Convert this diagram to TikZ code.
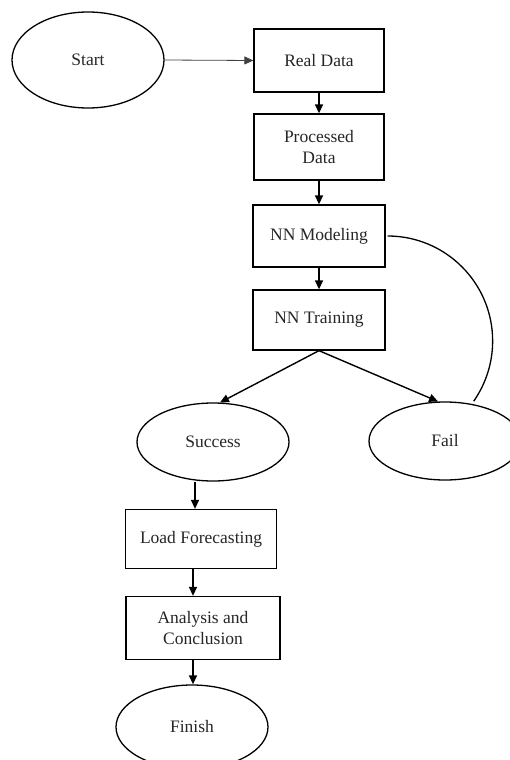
\documentclass[tikz,border=0pt]{standalone}
\usepackage{fontspec}
\setmainfont{Liberation Serif}
\usepackage{tikz}
\usetikzlibrary{arrows.meta,shapes.geometric}

\begin{document}
\begin{tikzpicture}[x=1pt, y=1pt,
    every node/.style={font=\fontsize{17.5}{21}\selectfont, text=black!85, align=center},
    box/.style={draw, line width=1.3pt, minimum width=#1, inner sep=0pt},
    oval/.style={draw, ellipse, line width=1.3pt, minimum width=152pt, minimum height=#1, inner sep=0pt},
    arr/.style={line width=1.4pt, -{Triangle[length=9pt,width=8pt]}}]

\useasboundingbox (0,0) rectangle (510,-760);

\node [oval=96pt] (start) at (88,-60) {Start};
\node [box=130pt, minimum height=63pt] (real) at (319,-60.5) {Real Data};
\node [box=130pt, minimum height=66pt] (proc) at (319,-147) {Processed\\Data};
\node [box=132pt, minimum height=62pt] (model) at (319,-236) {NN Modeling};
\node [box=132pt, minimum height=60pt] (train) at (319,-320) {NN Training};

\node [oval=78pt] (succ) at (213,-442) {Success};
\node [oval=78pt] (fail) at (445,-441) {Fail};

\node [box=151pt, minimum height=59pt] (load) at (201,-539) {Load Forecasting};
\node [box=154pt, minimum height=63pt] (anal) at (203,-628) {Analysis and\\Conclusion};
\node [oval=84pt] (fin) at (192,-727) {Finish};

\draw [arr, line width=0.8pt, black!75] (start.east) -- (real.west);
\draw [arr] (real.south) -- (proc.north);
\draw [arr] (proc.south) -- (model.north);
\draw [arr] (model.south) -- (train.north);

\draw [arr] (train.south) -- (succ.80);
\draw [arr] (train.south) -- (fail.100);

\draw [line width=1.3pt] ([xshift=2pt]model.east) arc [start angle=90, end angle=-35, radius=105pt];

\draw [arr] ([xshift=-18pt]succ.south) -- ([xshift=-6pt]load.north);
\draw [arr] ([xshift=-8pt]load.south) -- ([xshift=-10pt]anal.north);
\draw [arr] ([xshift=-10pt]anal.south) -- ([xshift=1pt]fin.north);

\end{tikzpicture}
\end{document}
